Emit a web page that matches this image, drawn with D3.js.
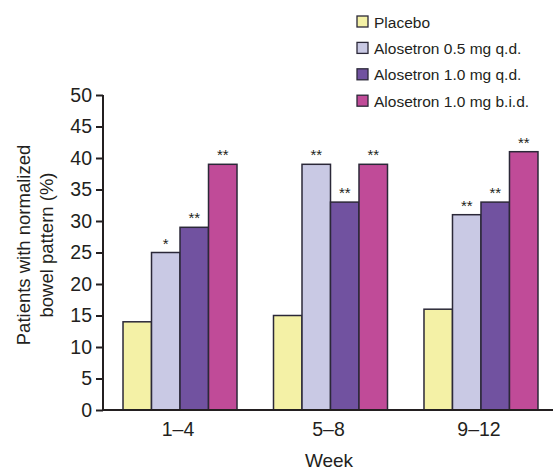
<!DOCTYPE html>
<html lang="en">
<head>
  <meta charset="UTF-8">
  <title>Normalized bowel pattern</title>
  <script src="https://d3js.org/d3.v7.min.js"></script>
  <style>
    body { margin: 0; background: #fff; }
    text { font-family: "Liberation Sans", Arial, sans-serif; fill: #231f20; }
    .axis path, .axis line { stroke: #231f20; stroke-width: 2px; }
    .axis text { font-size: 19.5px; }
    .bar { stroke: #2b2838; stroke-width: 1.5px; }
  </style>
</head>
<body>
  <svg width="553" height="472"></svg>
  <script>
    const weeks = ["1–4", "5–8", "9–12"];
    const groups = ["Placebo", "Alosetron 0.5 mg q.d.", "Alosetron 1.0 mg q.d.", "Alosetron 1.0 mg b.i.d."];
    const colors = ["#f4f1a6", "#c9c9e4", "#7152a0", "#c04b98"];
    const placebo = [14, 15, 16];
    const dose05 = [25, 39, 31];
    const dose10 = [29, 33, 33];
    const bid10 = [39, 39, 41];
    // significance markers, same order as the series
    const stars05 = ["*", "**", "**"];
    const stars10 = ["**", "**", "**"];
    const starsBid = ["**", "**", "**"];
    const yTicks = [0, 5, 10, 15, 20, 25, 30, 35, 40, 45, 50];

    const series = [placebo, dose05, dose10, bid10];
    const starSets = [null, stars05, stars10, starsBid];

    const svg = d3.select("svg");

    const y = d3.scaleLinear().domain([0, 50]).range([410, 95]);
    const x0 = d3.scaleBand().domain(weeks).range([103, 558])
      .paddingInner(0.2425).paddingOuter(0.133);
    const x1 = d3.scaleBand().domain(groups).range([0, x0.bandwidth()]);

    const rows = [];
    weeks.forEach((w, i) => {
      groups.forEach((g, j) => {
        rows.push({ week: w, group: g, value: series[j][i], star: starSets[j] ? starSets[j][i] : "", color: colors[j] });
      });
    });

    svg.append("g")
      .selectAll("rect")
      .data(rows)
      .join("rect")
      .attr("class", "bar")
      .attr("x", d => x0(d.week) + x1(d.group))
      .attr("y", d => y(d.value))
      .attr("width", x1.bandwidth())
      .attr("height", d => y(0) - y(d.value))
      .attr("fill", d => d.color);

    svg.append("g")
      .selectAll("text")
      .data(rows.filter(d => d.star))
      .join("text")
      .attr("x", d => x0(d.week) + x1(d.group) + x1.bandwidth() / 2)
      .attr("y", d => y(d.value) - 4)
      .attr("text-anchor", "middle")
      .style("font-size", "15px")
      .text(d => d.star);

    // y axis
    const yAxis = svg.append("g")
      .attr("class", "axis")
      .attr("transform", "translate(103,0)")
      .call(d3.axisLeft(y).tickValues(yTicks).tickSize(7).tickPadding(4).tickSizeOuter(0));
    yAxis.select(".domain").attr("d", `M0,${y(50)}V${y(0)}`);

    // x axis
    svg.append("line")
      .attr("x1", 103).attr("x2", 553)
      .attr("y1", y(0)).attr("y2", y(0))
      .attr("stroke", "#231f20").attr("stroke-width", 2);

    svg.append("g")
      .selectAll("text")
      .data(weeks)
      .join("text")
      .attr("x", d => x0(d) + x0.bandwidth() / 2 - 2)
      .attr("y", 436)
      .attr("text-anchor", "middle")
      .style("font-size", "19.5px")
      .text(d => d);

    svg.append("text")
      .attr("x", 329).attr("y", 467)
      .attr("text-anchor", "middle")
      .style("font-size", "19px")
      .text("Week");

    const yTitle = svg.append("text")
      .attr("transform", "translate(0,245) rotate(-90)")
      .attr("text-anchor", "middle")
      .style("font-size", "18.5px");
    yTitle.append("tspan").attr("x", 0).attr("y", 30).text("Patients with normalized");
    yTitle.append("tspan").attr("x", 0).attr("y", 53).text("bowel pattern (%)");

    // legend
    const legend = svg.append("g")
      .selectAll("g")
      .data(groups)
      .join("g")
      .attr("transform", (d, i) => `translate(357,${22 + i * 26.4})`);
    legend.append("rect")
      .attr("x", 0).attr("y", -6)
      .attr("width", 11).attr("height", 11)
      .attr("fill", (d, i) => colors[i])
      .attr("stroke", "#2b2838").attr("stroke-width", 1.3);
    legend.append("text")
      .attr("x", 17).attr("y", 5.5)
      .style("font-size", "15.5px")
      .text(d => d);
  </script>
</body>
</html>
